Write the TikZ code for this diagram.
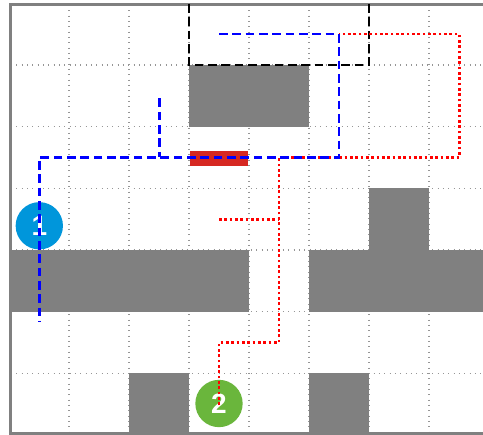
\documentclass[tikz,border=0pt]{standalone}
\usepackage{fontspec}
\setmainfont{Liberation Sans}
\definecolor{wall}{RGB}{128,128,128}
\definecolor{gridgray}{RGB}{150,150,150}
\definecolor{doorred}{RGB}{214,40,34}
\definecolor{markblue}{RGB}{0,150,219}
\definecolor{markgreen}{RGB}{106,182,60}
\tikzset{
  gridline/.style={gridgray, line width=0.8pt, dash pattern=on 0.8pt off 3.2pt},
  block/.style={fill=wall, draw=none},
  frame/.style={draw=wall, line width=2.4pt},
  bluepath/.style={blue, line width=2.2pt, dash pattern=on 6.5pt off 3.5pt},
  blackpath/.style={black, line width=2.2pt, dash pattern=on 6.5pt off 3.5pt},
  redpath/.style={red, line width=2pt, dash pattern=on 2pt off 2pt},
  marker/.style={circle, inner sep=0pt, minimum size=35.5pt, text=white,
    font=\fontsize{21}{21}\selectfont\bfseries},
}
\begin{document}
\begin{tikzpicture}[x=0.75pt, y=-0.75pt]
  \useasboundingbox (0,0) rectangle (483,435);
  \clip (0,0) rectangle (483,435);
  \fill[white] (0,0) rectangle (483,435);

  % dotted grid
  \foreach \gx in {69,129,189,249,309,369,429}
    \draw[gridline] (\gx,5) -- (\gx,435);
  \foreach \gy in {65,126.7,188.3,250,311.7,373.3}
    \draw[gridline] (11,\gy) -- (483,\gy);

  % walls
  \fill[block] (189,65) rectangle (309,126.7);
  \fill[block] (369,188.3) rectangle (429,250);
  \fill[block] (11,250) rectangle (249,311.7);
  \fill[block] (309,250) rectangle (490,311.7);
  \fill[block] (129,373.3) rectangle (189,435);
  \fill[block] (309,373.3) rectangle (369,435);

  % outer frame
  \draw[frame] (10.5,4.6) rectangle (492,433.8);

  % door
  \node[fill=doorred, draw=none, minimum width=43.5pt, minimum height=11.3pt,
        inner sep=0pt] (door) at (219,158.3) {};

  % markers
  \node[marker, fill=markblue] (m1) at (39.3,225.8) {1};
  \node[marker, fill=markgreen] (m2) at (219,403.5) {2};

  % route coordinates
  \coordinate (k0) at (189,4);
  \coordinate (k1) at (189,65);
  \coordinate (k2) at (369,65);
  \coordinate (k3) at (369,4);

  \coordinate (r0) at (219,405);
  \coordinate (r1) at (219,342.7);
  \coordinate (r2) at (279,342.7);
  \coordinate (r3) at (279,157.3);
  \coordinate (r4) at (459.3,157.3);
  \coordinate (r5) at (459.3,34);
  \coordinate (r6) at (339,34);
  \coordinate (rb) at (219,219.3);
  \coordinate (rc) at (279,219.3);

  \coordinate (b0) at (219,34);
  \coordinate (b1) at (339,34);
  \coordinate (b2) at (339,157.3);
  \coordinate (b3) at (39.3,157.3);
  \coordinate (b4) at (39.3,321);
  \coordinate (bb) at (159.3,98.5);
  \coordinate (bc) at (159.3,157.3);

  % black route
  \draw[blackpath] (k0) -- (k1) -- (k2) -- (k3);

  % red route
  \draw[redpath] (r0) -- (r1) -- (r2) -- (r3) -- (r4) -- (r5) -- (r6);
  \draw[redpath] (rb) -- (rc);

  % blue route
  \draw[bluepath] (b0) -- (b1) -- (b2) -- (b3) -- (b4);
  \draw[bluepath] (bb) -- (bc);
\end{tikzpicture}
\end{document}
